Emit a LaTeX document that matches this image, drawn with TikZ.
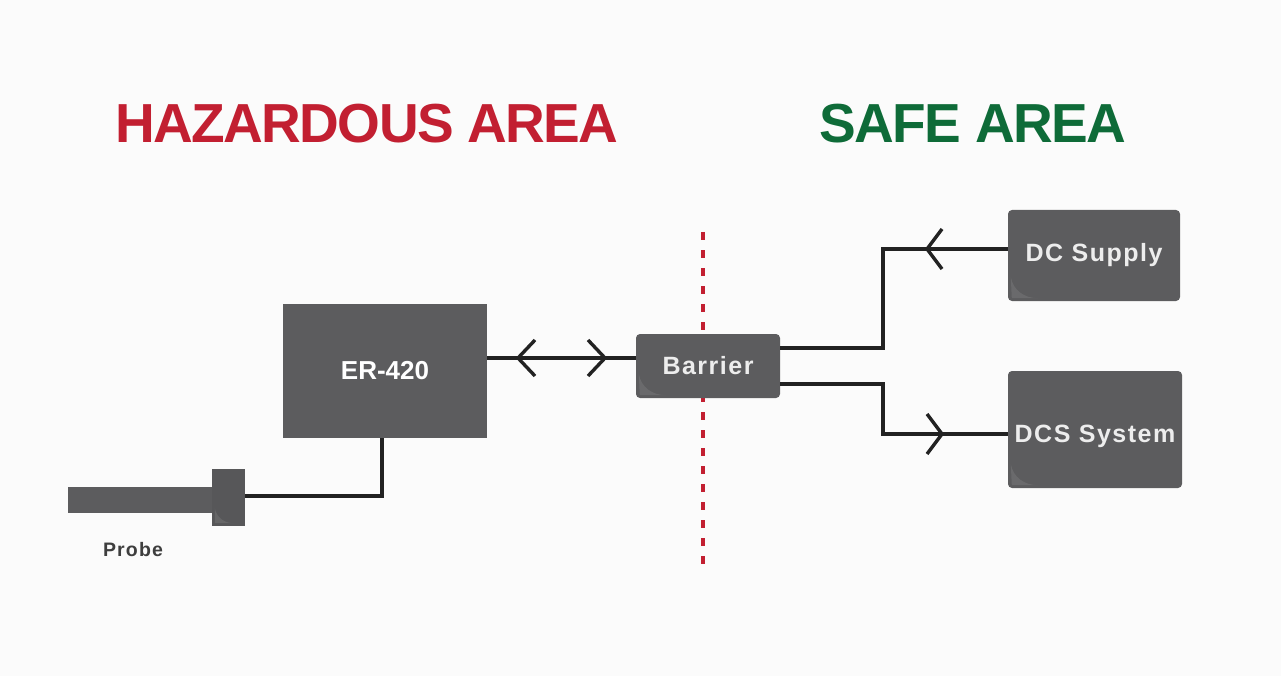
\documentclass[tikz,border=0pt]{standalone}
\usepackage{fontspec}
\setmainfont{Liberation Sans}
\newfontfamily\titlefont[LetterSpace=-3]{Liberation Sans}
\newfontfamily\boxfont[LetterSpace=6]{Liberation Sans}
\newfontfamily\probefont[LetterSpace=6]{Liberation Sans}
\definecolor{bg}{HTML}{FBFBFB}
\definecolor{boxgray}{HTML}{5C5C5E}
\definecolor{hazred}{HTML}{C21F31}
\definecolor{safegreen}{HTML}{0E6B38}
\definecolor{wire}{HTML}{222222}
\definecolor{boxtext}{HTML}{EDEDED}
\definecolor{probetext}{HTML}{3E3E3E}
\begin{document}
\begin{tikzpicture}[x=1pt,y=-1pt,
  unit/.style={fill=boxgray, draw=none, inner sep=0pt, text=boxtext, font=\boxfont\bfseries\fontsize{25}{25}\selectfont},
  rbox/.style={unit, rounded corners=4pt},
  wireline/.style={draw=wire, line width=3.4pt},
  chev/.style={draw=wire, line width=3.4pt, line join=miter},
  title/.style={font=\titlefont\bfseries\fontsize{55}{55}\selectfont, inner sep=0pt},
  hilite/.style={fill=white, opacity=0.09, draw=none}
]
\useasboundingbox[fill=bg] (0,0) rectangle (1281,676);

% titles
\node[title, text=hazred] (haz) at (367,124) {HAZARDOUS AREA};
\node[title, text=safegreen] (safe) at (973,124) {SAFE AREA};

% boundary
\coordinate (bt) at (703,232);
\coordinate (bb) at (703,570);
\draw[hazred, line width=4.5pt, dash pattern=on 8pt off 10pt] (bt) -- (bb);

% boxes
\node[unit, minimum width=204pt, minimum height=134pt, text=white, font=\bfseries\fontsize{26}{26}\selectfont] (er) at (385,371) {ER-420};
\node[rbox, minimum width=144pt, minimum height=64pt] (br) at (708,366) {Barrier};
\node[rbox, minimum width=172pt, minimum height=91pt] (dc) at (1094,255.5) {DC Supply};
\node[rbox, minimum width=174pt, minimum height=117pt, text height=32pt, text depth=6pt] (dcs) at (1095,429.5) {DCS System};

% corner highlights
\foreach \n in {br,dc,dcs}{
  \fill[hilite] ([shift={(3pt,24pt)}]\n.south west) to[out=-80,in=180] ([shift={(30pt,3pt)}]\n.south west) -- ([shift={(4pt,3pt)}]\n.south west) -- cycle;
}

% probe
\node[fill=boxgray, inner sep=0pt, minimum width=146pt, minimum height=26pt] (shaft) at (140.5,500) {};
\node[fill=boxgray!95!black, inner sep=0pt, minimum width=33pt, minimum height=57pt] (pc) at (228.5,497.5) {};
\fill[hilite] ([shift={(3pt,18pt)}]pc.south west) to[out=-80,in=180] ([shift={(22pt,3pt)}]pc.south west) -- ([shift={(3pt,3pt)}]pc.south west) -- cycle;
\node[font=\probefont\bfseries\fontsize{19.5}{19.5}\selectfont, text=probetext, inner sep=0pt] (plabel) at (133,550) {Probe};

% connectors
\draw[wireline] ([yshift=13pt]er.east) -- ([yshift=8pt]br.west);
\draw[wireline] ([xshift=-3pt]er.south) |- ([yshift=1.5pt]pc.east);
\draw[wireline] ([yshift=18pt]br.east) -- (883,348) |- ([yshift=6.5pt]dc.west);
\draw[wireline] ([yshift=-18pt]br.east) -- (883,384) |- ([yshift=-4.5pt]dcs.west);

% chevrons
\draw[chev] (535,340) -- (518,358) -- (535,376);
\draw[chev] (588,340) -- (605,358) -- (588,376);
\draw[chev] (942,229) -- (927,249) -- (942,269);
\draw[chev] (927,414) -- (942,434) -- (927,454);
\end{tikzpicture}
\end{document}
